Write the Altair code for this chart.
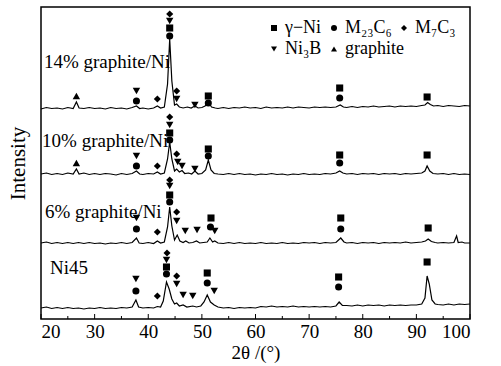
import altair as alt
import pandas as pd

# ---- data (y in arbitrary intensity units, 0..312) ----
trace_ni45 = [(20,11),(21,12),(22,10.5),(23,11.5),(24,10.5),(25,11.5),(26,10.5),(27,11),(28,10),(29,11),
  (30,10.5),(31,11.5),(32,10.5),(33,11),(34,10.5),(35,11.5),(36,11),(37,12),(37.7,19),(38.2,12),(39,11),
  (40,11.5),(41,11),(41.7,12.5),(42.3,12),(42.8,18),(43.4,37),(43.9,30),(44.4,20),(44.9,15),(45.3,16),
  (45.8,13),(46.5,14),(47.2,12),(48.3,13),(49,12),(49.8,13),(50.4,17),(51.0,24),(51.6,17),(52.3,14),
  (53,12),(54,11),(55,11.5),(56,10.5),(57,11.5),(58,11),(59,11.5),(60,11),(61,12.5),(62,12),(63,13),
  (64,12),(65,12.5),(66,12),(67,13),(68,12),(69,12.5),(70,12),(71,12.5),(72,12),(73,12.5),(74,12),
  (75,13),(75.6,17),(76.2,13.5),(77,13.5),(78,13),(79,14),(80,13),(81,14),(82,13.5),(83,14),(84,13),
  (85,14),(86,13.5),(87,14),(88,13.5),(89,14),(90,14),(91,15),(91.6,21),(92.0,43),(92.4,35),(92.9,19),
  (93.5,15),(94,14.5),(95,14),(96,15),(97,14),(98,15),(99,14.5),(100,15)]

trace_6 = [(20,76),(21,77),(22,75.5),(23,76.5),(24,75.5),(25,76.5),(26,75.5),(27,76.5),(28,75.5),(29,76.5),
  (30,75.5),(31,76),(32,75),(33,76),(34,75.5),(35,76.5),(36,75.5),(37,76.5),(37.8,81),(38.3,76),(39,75.5),
  (40,76.5),(41,75.5),(41.7,78),(42.3,76),(43,77),(43.6,92),(44.0,112),(44.4,93),(44.9,79),(45.4,84),
  (45.9,78),(46.5,76.5),(47,78),(47.6,76),(48.3,76.5),(49,78),(49.6,76),(50.3,76.5),(51,77),(51.5,81),
  (52,77),(52.4,78),(53,76),(54,75.5),(55,76.5),(56,75.5),(57,76.5),(58,75.5),(59,76),(60,75.5),(61,76.5),
  (62,75.5),(63,76),(64,75.5),(65,76.5),(66,75.5),(67,76),(68,75.5),(69,76.5),(70,76),(71,76.5),(72,75.5),
  (73,76.5),(74,76),(75,76.5),(75.9,81),(76.5,77),(77,76),(78,76.5),(79,75.5),(80,76.5),(81,76),(82,76.5),
  (83,75.5),(84,76.5),(85,76),(86,76.5),(87,76),(88,77),(89,76),(90,76.5),(91,77),(91.7,78),(92.2,80),
  (92.8,77.5),(93.5,76.5),(94,76),(95,76.5),(96,76),(97,76.5),(97.5,83),(97.8,76.5),(98.5,77),(99,76),(100,76)]

trace_10 = [(20,145),(21,146),(22,144.5),(23,145.5),(24,144.5),(25,146),(26,145),(26.6,150),(27.1,145),
  (28,146),(29,144.5),(30,145.5),(31,144.5),(32,145.5),(33,145),(34,144),(35,145.5),(36,144.5),(37,145.5),
  (37.8,148),(38.4,145),(39,144.5),(40,145.5),(41,145),(41.7,147),(42.3,145),(43,146),(43.6,160),(44.0,177),
  (44.4,160),(44.9,148),(45.3,150),(45.8,147),(46.3,148.5),(46.8,145.5),(47.5,146),(48.1,145),(48.7,148),
  (49.3,145),(50,145.5),(50.7,149),(51.2,159),(51.7,149),(52.3,145.5),(53,145),(54,144.5),(55,145.5),
  (56,144.5),(57,145.5),(58,144.5),(59,145),(60,144),(61,145),(62,144.5),(63,145.5),(64,144.5),(65,145),
  (66,144),(67,145),(68,144.5),(69,145.5),(70,144.5),(71,145),(72,144.5),(73,145.5),(74,145),(75,146),
  (75.7,148),(76.3,146),(77,145),(78,145.5),(79,144.5),(80,145.5),(81,145),(82,145.5),(83,144.5),(84,145.5),
  (85,145),(86,145.5),(87,144.5),(88,145.5),(89,145),(90,145.5),(91,146),(91.6,148),(92.0,153),(92.5,148),
  (93.1,145.5),(94,145),(95,145.5),(96,144.5),(97,145.5),(98,144.5),(99,145),(100,144.5)]

trace_14 = [(20,210),(21,211.5),(22,210.5),(23,211),(24,210),(25,211.5),(26,210.5),(26.6,217),(27.1,211),
  (28,210.5),(29,211.5),(30,210.5),(31,211),(32,210),(33,211.5),(34,210.5),(35,211),(36,210),(37,211.5),
  (37.8,213),(38.4,210.5),(39,211),(40,210),(41,211),(41.7,213),(42.3,211),(43,212),(43.6,235),(44.0,280),
  (44.4,238),(44.9,214),(45.3,215),(45.8,212),(46.5,211),(47.3,212),(48,211),(48.7,213),(49.3,211),
  (50,211.5),(50.6,213),(51.2,217),(51.8,212),(52.5,211),(53,210.5),(54,211.5),(55,210.5),(56,211.5),
  (57,211),(58,212),(59,211),(60,211.5),(61,210.5),(62,212),(63,211),(64,211.5),(65,211),(66,212),(67,211),
  (68,212),(69,211.5),(70,211),(71,212),(72,211.5),(73,212),(74,211.5),(75,212),(75.8,214),(76.4,212),
  (77,211.5),(78,212.5),(79,211.5),(80,212.5),(81,212),(82,213),(83,212),(84,212.5),(85,213),(86,212),
  (87,213),(88,212.5),(89,213),(90,212.5),(91,213.5),(91.6,214),(92.1,216.5),(92.6,214.5),(93.2,213),
  (94,213.5),(95,212.5),(96,213.5),(97,213),(98,212.5),(99,213.5),(100,213)]

series_names = ["Ni45", "6% graphite/Ni", "10% graphite/Ni", "14% graphite/Ni"]
series_traces = [trace_ni45, trace_6, trace_10, trace_14]

# sample labels (x, y in data units)
label_text = ["14% graphite/Ni", "10% graphite/Ni", "6% graphite/Ni", "Ni45"]
label_x = [20.55, 20.2, 20.75, 21.7]
label_y = [257, 178, 107, 51]

# phase legend rows
phases_row1 = ["γ−Ni", "M₂₃C₆", "M₇C₃"]
shapes_row1 = ["square", "circle", "diamond"]
phases_row2 = ["Ni₃B", "graphite"]
shapes_row2 = ["triangle-down", "triangle-up"]

# phase markers: (2theta, y, phase)
markers_14 = [(26.6,223,"graphite"),(37.8,228,"Ni₃B"),(37.8,218,"M₂₃C₆"),(41.7,220,"M₇C₃"),
  (44.0,305,"M₇C₃"),(44.0,298,"Ni₃B"),(44.0,291,"γ−Ni"),(44.0,283,"M₂₃C₆"),
  (45.3,228,"M₇C₃"),(45.3,220,"Ni₃B"),(48.7,214,"Ni₃B"),(51.2,223,"γ−Ni"),(51.2,216,"M₂₃C₆"),
  (75.7,231,"γ−Ni"),(75.7,221,"M₂₃C₆"),(92.0,222,"γ−Ni")]
markers_10 = [(26.6,156,"graphite"),(37.8,163,"Ni₃B"),(37.8,153,"M₂₃C₆"),(41.7,153,"M₇C₃"),
  (44.0,202,"M₇C₃"),(44.0,194,"Ni₃B"),(44.0,186,"γ−Ni"),(44.0,179,"M₂₃C₆"),
  (45.3,165,"M₇C₃"),(45.5,157,"Ni₃B"),(46.3,153,"Ni₃B"),(48.7,150,"Ni₃B"),
  (51.2,170,"γ−Ni"),(51.2,163,"M₂₃C₆"),(75.7,164,"γ−Ni"),(75.7,156,"M₂₃C₆"),(92.0,164,"γ−Ni")]
markers_6 = [(37.8,101,"Ni₃B"),(37.8,90,"M₂₃C₆"),(41.7,87,"M₇C₃"),
  (44.0,139,"M₇C₃"),(44.0,133,"Ni₃B"),(44.0,124,"γ−Ni"),(44.0,117,"M₂₃C₆"),
  (45.3,107,"M₇C₃"),(45.3,98,"Ni₃B"),(46.9,88,"Ni₃B"),(49.1,89,"Ni₃B"),
  (51.7,101,"γ−Ni"),(51.6,92,"M₂₃C₆"),(52.4,88,"Ni₃B"),(75.9,101,"γ−Ni"),(75.9,90,"M₂₃C₆"),(92.2,91,"γ−Ni")]
markers_ni45 = [(37.7,40,"Ni₃B"),(37.7,28,"M₂₃C₆"),(41.7,23,"M₇C₃"),
  (43.5,66,"M₇C₃"),(43.4,59,"Ni₃B"),(43.4,52,"γ−Ni"),(43.4,45,"M₂₃C₆"),
  (45.3,43,"M₇C₃"),(45.3,35,"Ni₃B"),(46.5,24,"Ni₃B"),(48.3,23,"Ni₃B"),
  (51.0,46,"γ−Ni"),(51.0,36,"M₂₃C₆"),(52.3,28,"Ni₃B"),(75.5,42,"γ−Ni"),(75.5,32,"M₂₃C₆"),(92.0,57,"γ−Ni")]

# inward x-axis ticks
tick_pos = [20,25,30,35,40,45,50,55,60,65,70,75,80,85,90,95,100]
tick_len = [5,3,5,3,5,3,5,3,5,3,5,3,5,3,5,3,5]
x_labels = [20,30,40,50,60,70,80,90,100]

# ---- build tables ----
rows = []
for name, tr in zip(series_names, series_traces):
    for x, y in tr:
        rows.append({"series": name, "x": x, "y": y})
lines_df = pd.DataFrame(rows)

mk_rows = []
for grp in [markers_14, markers_10, markers_6, markers_ni45]:
    for x, y, p in grp:
        mk_rows.append({"x": x, "y": y, "phase": p})
mk_df = pd.DataFrame(mk_rows)
mk1 = mk_df[mk_df["phase"].isin(phases_row1)]
mk2 = mk_df[mk_df["phase"].isin(phases_row2)]

lab_df = pd.DataFrame({"text": label_text, "x": label_x, "y": label_y})
tick_df = pd.DataFrame({"x": tick_pos, "y0": [0]*len(tick_pos), "len": tick_len})

FONT = "Liberation Serif"
xscale = alt.Scale(domain=[20, 100], nice=False, zero=False)
yscale = alt.Scale(domain=[0, 312], nice=False, zero=False)

xenc = alt.X("x:Q", scale=xscale,
             axis=alt.Axis(title="2θ /(°)", values=x_labels, ticks=False, domain=False, grid=False,
                           labelFont=FONT, labelFontSize=19, labelColor="black", labelPadding=3,
                           titleFont=FONT, titleFontSize=19, titleFontWeight="normal",
                           titleColor="black", titlePadding=2))
yenc = alt.Y("y:Q", scale=yscale,
             axis=alt.Axis(title="Intensity", labels=False, ticks=False, domain=False, grid=False,
                           titleFont=FONT, titleFontSize=21, titleFontWeight="normal",
                           titleColor="black", titlePadding=13))

lines = alt.Chart(lines_df).mark_line(color="black", strokeWidth=1.2).encode(
    x=xenc, y=yenc, detail="series:N")


def legend_for(y_px):
    return alt.Legend(title=None, orient="none", legendX=224, legendY=y_px,
                      direction="horizontal", columnPadding=3,
                      labelFont=FONT, labelFontSize=18, labelColor="black",
                      labelOffset=2, symbolSize=36, symbolFillColor="black",
                      symbolStrokeColor="black", symbolOpacity=1)


marks1 = alt.Chart(mk1).mark_point(filled=True, color="black", opacity=1, size=50).encode(
    x="x:Q", y="y:Q",
    shape=alt.Shape("phase:N", scale=alt.Scale(domain=phases_row1, range=shapes_row1),
                    legend=legend_for(12)))
marks2 = alt.Chart(mk2).mark_point(filled=True, color="black", opacity=1, size=55).encode(
    x="x:Q", y="y:Q",
    shape=alt.Shape("phase:N", scale=alt.Scale(domain=phases_row2, range=shapes_row2),
                    legend=legend_for(33)))

labels = alt.Chart(lab_df).mark_text(align="left", baseline="middle", font=FONT,
                                     fontSize=19, color="black").encode(
    x="x:Q", y="y:Q", text="text:N")

ticks = alt.Chart(tick_df).mark_rule(color="black", strokeWidth=1).encode(
    x="x:Q", y="y0:Q", y2="len:Q")

chart = alt.layer(lines, ticks, marks1, marks2, labels).resolve_scale(shape="independent").properties(
    width=429, height=312,
    padding={"left": 41, "top": 7, "right": 31, "bottom": 47},
    autosize=alt.AutoSizeParams(type="none"),
    background="white",
).configure_view(stroke="black", strokeWidth=1.5)

chart.save("out.html", embed_options={"renderer": "svg", "actions": False})
